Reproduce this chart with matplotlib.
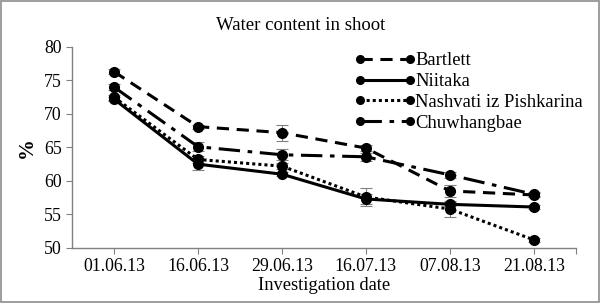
import matplotlib
matplotlib.use("Agg")
import matplotlib.pyplot as plt
from matplotlib.patches import Rectangle

dates = ["01.06.13", "16.06.13", "29.06.13", "16.07.13", "07.08.13", "21.08.13"]
series_names = ["Bartlett", "Niitaka", "Nashvati iz Pishkarina", "Chuwhangbae"]
bartlett = [76.3, 68.1, 67.2, 64.9, 58.5, 57.9]
niitaka = [72.2, 62.5, 61.0, 57.3, 56.5, 56.1]
nashvati = [72.5, 63.2, 62.2, 57.6, 55.8, 51.2]
chuwhangbae = [74.0, 65.1, 63.9, 63.6, 60.9, 58.0]
err_bartlett = [0.4, 0.3, 1.2, 0.5, 0.9, 0.3]
err_niitaka = [0.3, 0.8, 0.3, 0.7, 0.3, 0.3]
err_nashvati = [0.4, 0.5, 0.4, 1.3, 1.2, 0.3]
err_chuwhangbae = [0.5, 0.7, 0.8, 0.6, 0.4, 0.3]

plt.rcParams['font.family'] = ['Liberation Serif', 'DejaVu Serif']

fig = plt.figure(figsize=(6.01, 3.03), dpi=100)
fig.patches.append(Rectangle((0.002, 0.003), 0.995, 0.993, transform=fig.transFigure,
                             fill=False, edgecolor='#8c8c8c', linewidth=1.2))
ax = fig.add_axes([0.12, 0.182, 0.838, 0.663])

x = list(range(len(dates)))
styles = [(0, (4, 2.5)), '-', (0, (1, 1)), (0, (7, 2.5, 1.5, 2.5))]
data = [bartlett, niitaka, nashvati, chuwhangbae]
errs = [err_bartlett, err_niitaka, err_nashvati, err_chuwhangbae]
handles = []
for name, vals, e, ls in zip(series_names, data, errs, styles):
    ax.errorbar(x, vals, yerr=e, fmt='none', ecolor='#808080', elinewidth=0.8,
                capsize=4, capthick=0.8, zorder=2)
    h, = ax.plot(x, vals, color='black', linestyle=ls, linewidth=2.2,
                 marker='o', markersize=7, zorder=3, label=name)
    handles.append(h)

ax.set_xlim(-0.5, 5.5)
ax.set_ylim(50, 80)
ax.set_yticks([50, 55, 60, 65, 70, 75, 80])
ax.set_xticks(x)
ax.set_xticklabels(dates)
ax.set_xticks([5.5], minor=True)
ax.tick_params(axis='both', labelsize=12.8, color='#808080', length=4, width=0.8)
ax.tick_params(axis='x', which='minor', color='#808080', length=4, width=0.8)
for s in ['top', 'right']:
    ax.spines[s].set_visible(False)
for s in ['left', 'bottom']:
    ax.spines[s].set_color('#808080')
    ax.spines[s].set_linewidth(1.0)

ax.set_ylabel('%', fontsize=15, fontweight='bold', labelpad=5)
ax.set_xlabel('Investigation date', fontsize=13.3, labelpad=1)
fig.text(0.5, 0.917, 'Water content in shoot', ha='center', va='center', fontsize=13.5)

leg = ax.legend(handles=handles, loc='upper left', bbox_to_anchor=(0.545, 1.01),
                frameon=False, fontsize=13.4, numpoints=2, handlelength=3.3,
                handletextpad=0.0, labelspacing=0.2, borderaxespad=0)
for lh in leg.legend_handles:
    lh.set_markersize(5.5)

fig.savefig('out.png', dpi=100)
